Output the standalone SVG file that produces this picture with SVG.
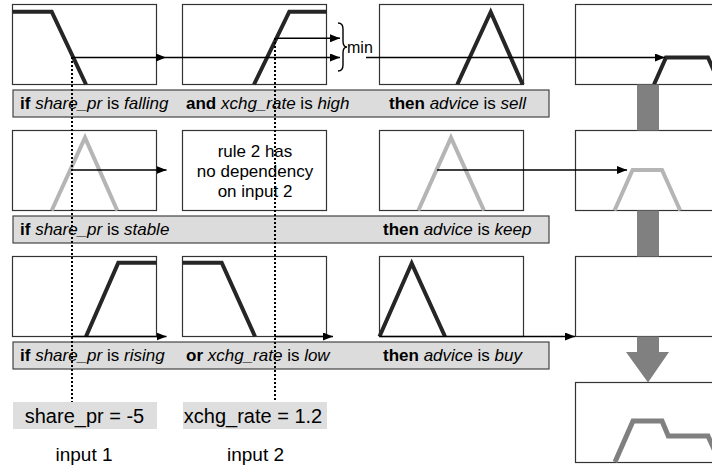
<svg xmlns="http://www.w3.org/2000/svg" width="712" height="472" viewBox="0 0 712 472">
<style>
  .box { fill: #fff; stroke: #333; stroke-width: 1.2; }
  .bar { fill: #dcdcdc; stroke: #444; stroke-width: 1.2; }
  .inbox { fill: #dedede; stroke: none; }
  .dark { fill: none; stroke: #262626; stroke-width: 4; }
  .light { fill: none; stroke: #b5b5b5; stroke-width: 4; }
  .agg { fill: none; stroke: #808080; stroke-width: 5; }
  .arr { fill: none; stroke: #000; stroke-width: 1.6; marker-end: url(#ah); }
  .dot { fill: none; stroke: #000; stroke-width: 2; stroke-dasharray: 2 2; }
  text { font-family: "Liberation Sans", Arial, sans-serif; fill: #000; }
  .lbl { font-size: 17px; }
  .inp { font-size: 20px; text-anchor: middle; }
  .b { font-weight: bold; }
  .i { font-style: italic; }
</style>
<defs>
  <marker id="ah" viewBox="0 0 10 8" refX="10" refY="4" markerWidth="10" markerHeight="8" markerUnits="userSpaceOnUse" orient="auto">
    <path d="M0,0 L10,4 L0,8 z" fill="#000"/>
  </marker>
</defs>

<!-- Row 1 -->
<g id="r1-in1">
  <rect class="box" x="12.5" y="4.5" width="144" height="80"/>
  <polyline class="dark" points="12.5,11.7 51.7,11.7 86,84.5"/>
</g>
<g id="r1-in2">
  <rect class="box" x="182.5" y="4.5" width="144" height="80"/>
  <polyline class="dark" points="254,84.5 289.3,11.7 326.5,11.7"/>
</g>
<g id="r1-out">
  <rect class="box" x="379.5" y="4.5" width="144" height="80"/>
  <polyline class="dark" points="457.3,84.5 490.7,12 522.7,84.5"/>
</g>
<g id="r1-res">
  <rect class="box" x="575.5" y="4.5" width="144" height="80"/>
  <polyline class="dark" points="654,84.5 666,57.5 708,57.5 720,84.5"/>
</g>
<g id="r1-rule">
  <rect class="bar" x="13" y="90" width="536" height="27"/>
  <text class="lbl" x="20" y="109"><tspan class="b">if</tspan> <tspan class="i">share_pr</tspan> is <tspan class="i">falling</tspan></text>
  <text class="lbl" x="186" y="109"><tspan class="b">and</tspan> <tspan class="i">xchg_rate</tspan> is <tspan class="i">high</tspan></text>
  <text class="lbl" x="389" y="109"><tspan class="b">then</tspan> <tspan class="i">advice</tspan> is <tspan class="i">sell</tspan></text>
</g>
<g id="min">
  <path d="M338,23 Q343,23 343,29 L343,41 Q343,47 347,47 Q343,47 343,53 L343,65 Q343,71 338,71" fill="none" stroke="#000" stroke-width="1.4"/>
  <text x="347" y="53" style="font-size:16px">min</text>
</g>

<!-- Row 2 -->
<g id="r2-in1">
  <rect class="box" x="12.5" y="130.5" width="144" height="80"/>
  <polyline class="light" points="51.7,210.5 85,137.7 117.3,210.5"/>
</g>
<g id="r2-in2">
  <rect class="box" x="182.5" y="130.5" width="144" height="80"/>
  <text class="lbl" x="255" y="157" text-anchor="middle">rule 2 has</text>
  <text class="lbl" x="255" y="177" text-anchor="middle">no dependency</text>
  <text class="lbl" x="255" y="197" text-anchor="middle">on input 2</text>
</g>
<g id="r2-out">
  <rect class="box" x="379.5" y="130.5" width="144" height="80"/>
  <polyline class="light" points="418.3,210.5 451,137.7 484,210.5"/>
</g>
<g id="r2-res">
  <rect class="box" x="575.5" y="130.5" width="144" height="80"/>
  <polyline class="light" points="614.5,210.5 632.6,170 662,170 680.2,210.5"/>
</g>
<g id="r2-rule">
  <rect class="bar" x="13" y="216" width="536" height="27"/>
  <text class="lbl" x="20" y="235"><tspan class="b">if</tspan> <tspan class="i">share_pr</tspan> is <tspan class="i">stable</tspan></text>
  <text class="lbl" x="383" y="235"><tspan class="b">then</tspan> <tspan class="i">advice</tspan> is <tspan class="i">keep</tspan></text>
</g>

<!-- Row 3 -->
<g id="r3-in1">
  <rect class="box" x="12.5" y="256.5" width="144" height="80"/>
  <polyline class="dark" points="86,336.5 118.3,262.7 156.5,262.7"/>
</g>
<g id="r3-in2">
  <rect class="box" x="182.5" y="256.5" width="144" height="80"/>
  <polyline class="dark" points="182.5,262.7 221.7,262.7 255,336.5"/>
</g>
<g id="r3-out">
  <rect class="box" x="379.5" y="256.5" width="144" height="80"/>
  <polyline class="dark" points="379.5,336.5 411.7,263.3 445,336.5"/>
</g>
<g id="r3-res">
  <rect class="box" x="575.5" y="256.5" width="144" height="80"/>
</g>
<g id="r3-rule">
  <rect class="bar" x="13" y="342" width="536" height="27"/>
  <text class="lbl" x="20" y="361"><tspan class="b">if</tspan> <tspan class="i">share_pr</tspan> is <tspan class="i">rising</tspan></text>
  <text class="lbl" x="186" y="361"><tspan class="b">or</tspan> <tspan class="i">xchg_rate</tspan> is <tspan class="i">low</tspan></text>
  <text class="lbl" x="383" y="361"><tspan class="b">then</tspan> <tspan class="i">advice</tspan> is <tspan class="i">buy</tspan></text>
</g>

<!-- Aggregation -->
<g id="agg">
  <rect class="box" x="575.5" y="382.5" width="144" height="80"/>
  <polyline class="agg" points="615,462 633,421 662,421 668.3,436 708,436 720,462"/>
</g>
<g id="sum-bars" fill="#808080">
  <rect x="637" y="84.5" width="22" height="46"/>
  <rect x="637" y="210.5" width="22" height="46"/>
  <path d="M637,336.5 L659,336.5 L659,352 L669,352 L648,382.5 L626,352 L637,352 z"/>
</g>

<!-- Inputs -->
<g id="input1">
  <rect class="inbox" x="13" y="402" width="144" height="27"/>
  <text class="inp" x="84.5" y="423">share_pr = -5</text>
  <text class="inp" x="84" y="461" style="font-size:19px">input 1</text>
</g>
<g id="input2">
  <rect class="inbox" x="183" y="402" width="144" height="27"/>
  <text class="inp" x="253" y="423">xchg_rate = 1.2</text>
  <text class="inp" x="255.5" y="461" style="font-size:19px">input 2</text>
</g>

<!-- Connectors -->
<g id="connectors">
  <line class="dot" x1="72" y1="57" x2="72" y2="402"/>
  <line class="dot" x1="275" y1="38" x2="275" y2="402"/>
  <line class="arr" x1="73" y1="57.5" x2="166" y2="57.5"/>
  <line class="arr" x1="166" y1="57.5" x2="340" y2="57.5"/>
  <line class="arr" x1="276.5" y1="38.3" x2="340" y2="38.3"/>
  <line class="arr" x1="366" y1="57.5" x2="665" y2="57.5"/>
  <line class="arr" x1="72" y1="170" x2="166.5" y2="170"/>
  <line class="arr" x1="437" y1="170" x2="627" y2="170"/>
  <line class="arr" x1="72" y1="336.5" x2="166.5" y2="336.5"/>
  <line class="arr" x1="275" y1="336.5" x2="333" y2="336.5"/>
  <line class="arr" x1="379.5" y1="336.5" x2="575" y2="336.5"/>
</g>
</svg>
